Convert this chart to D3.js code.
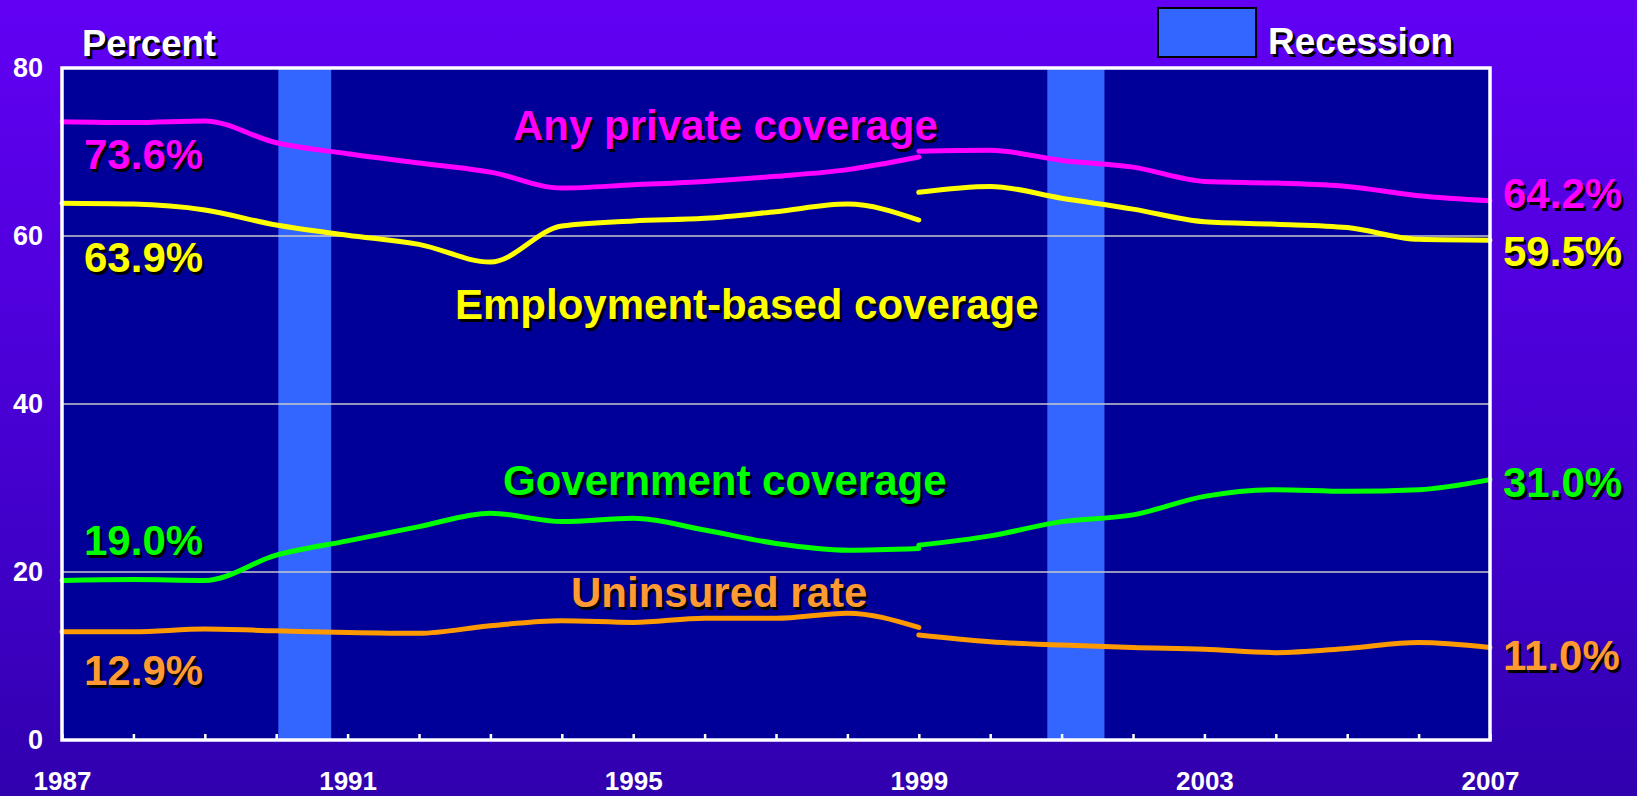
<!DOCTYPE html>
<html>
<head>
<meta charset="utf-8">
<script src="https://cdn.jsdelivr.net/npm/d3@7"></script>
<style>
  html, body { margin: 0; padding: 0; background: #4a00d8; }
  svg { display: block; }
  text { font-family: "Liberation Sans", Arial, sans-serif; font-weight: bold; }
</style>
</head>
<body>
<svg id="chart" width="1637" height="796"></svg>
<script>
// ---- data ----
const yearsOld = [1987,1988,1989,1990,1991,1992,1993,1994,1995,1996,1997,1998,1999];
const yearsNew = [1999,2000,2001,2002,2003,2004,2005,2006,2007];

const privateOld    = [73.6,73.5,73.7,71.1,69.8,68.7,67.6,65.7,66.1,66.5,67.1,67.9,69.4];
const privateNew    = [70.1,70.2,69.0,68.2,66.5,66.3,65.9,64.8,64.2];
const employmentOld = [63.9,63.8,63.1,61.3,60.1,59.0,56.9,61.2,61.8,62.1,62.9,63.8,61.9];
const employmentNew = [65.2,65.9,64.5,63.2,61.7,61.4,61.0,59.6,59.5];
const governmentOld = [19.0,19.1,19.0,22.0,23.7,25.4,27.0,26.0,26.4,25.0,23.4,22.6,22.8];
const governmentNew = [23.2,24.3,26.0,26.8,29.0,29.8,29.6,29.8,31.0];
const uninsuredOld  = [12.9,12.9,13.2,13.0,12.8,12.7,13.6,14.2,14.0,14.5,14.5,15.1,13.4];
const uninsuredNew  = [12.5,11.7,11.3,11.0,10.8,10.4,10.9,11.6,11.0];

const recessions = [[1990.03, 1990.77], [2000.8, 2001.6]];
const yTicks = [0, 20, 40, 60, 80];
const gridValues = [20, 40, 60];
const tickYears = d3.range(1987, 2008);
const labelYears = [1987, 1991, 1995, 1999, 2003, 2007];

const startLabels = ["73.6%", "63.9%", "19.0%", "12.9%"];
const endLabels   = ["64.2%", "59.5%", "31.0%", "11.0%"];
const seriesNames = ["Any private coverage", "Employment-based coverage", "Government coverage", "Uninsured rate"];

// ---- layout ----
const W = 1637, H = 796;
const L = 62, R = 1490, T = 68, B = 740;
const svg = d3.select("#chart");

const x = d3.scaleLinear().domain([1987, 2007]).range([L, R]);
const y = d3.scaleLinear().domain([0, 80]).range([B, T]);

// background gradient
const defs = svg.append("defs");
const grad = defs.append("linearGradient").attr("id", "bg").attr("x1", 0).attr("y1", 0).attr("x2", 0).attr("y2", 1);
grad.append("stop").attr("offset", "0%").attr("stop-color", "#6200F4");
grad.append("stop").attr("offset", "70%").attr("stop-color", "#3F00C8");
grad.append("stop").attr("offset", "100%").attr("stop-color", "#3100AE");
svg.append("rect").attr("width", W).attr("height", H).attr("fill", "url(#bg)");

// plot area
svg.append("rect").attr("x", L).attr("y", T).attr("width", R - L).attr("height", B - T).attr("fill", "#000099");

// recession bars
svg.selectAll("rect.rec").data(recessions).enter().append("rect")
  .attr("class", "rec")
  .attr("x", d => x(d[0])).attr("width", d => x(d[1]) - x(d[0]))
  .attr("y", T).attr("height", B - T).attr("fill", "#3366FF");

// gridlines
svg.selectAll("line.grid").data(gridValues).enter().append("line")
  .attr("x1", L).attr("x2", R).attr("y1", d => y(d)).attr("y2", d => y(d))
  .attr("stroke", "#C8C8C8").attr("stroke-width", 1.6);

// lines
const line = d3.line().x(d => x(d[0])).y(d => y(d[1])).curve(d3.curveMonotoneX);
const series = [
  { color: "#FF00FF", segs: [privateOld, privateNew] },
  { color: "#FFFF00", segs: [employmentOld, employmentNew] },
  { color: "#00FF00", segs: [governmentOld, governmentNew] },
  { color: "#FF9900", segs: [uninsuredOld, uninsuredNew] }
];
series.forEach(s => {
  [[yearsOld, s.segs[0]], [yearsNew, s.segs[1]]].forEach(([yrs, vals]) => {
    svg.append("path")
      .datum(yrs.map((yr, i) => [yr, vals[i]]))
      .attr("d", line)
      .attr("fill", "none")
      .attr("stroke", s.color)
      .attr("stroke-width", 5)
      .attr("stroke-linecap", "round")
      .attr("stroke-linejoin", "round");
  });
});

// border
svg.append("rect").attr("x", L).attr("y", T).attr("width", R - L).attr("height", B - T)
  .attr("fill", "none").attr("stroke", "#FFFFFF").attr("stroke-width", 3.5);

// x axis
const xAxis = d3.axisBottom(x).tickValues(tickYears).tickSize(-6).tickPadding(32)
  .tickFormat(d => labelYears.includes(d) ? String(d) : "");
const gx = svg.append("g").attr("transform", `translate(0,${B})`).call(xAxis);
gx.select(".domain").remove();
gx.selectAll(".tick line").attr("stroke", "#FFFFFF").attr("stroke-width", 2.5);
gx.selectAll(".tick text").attr("fill", "#FFFFFF").attr("font-size", 26)
  .attr("font-family", "Liberation Sans, Arial, sans-serif").attr("font-weight", "bold");

// y axis
const yAxis = d3.axisLeft(y).tickValues(yTicks).tickSize(0).tickPadding(19);
const gy = svg.append("g").attr("transform", `translate(${L},0)`).call(yAxis);
gy.select(".domain").remove();
gy.selectAll(".tick text").attr("fill", "#FFFFFF").attr("font-size", 27)
  .attr("font-family", "Liberation Sans, Arial, sans-serif").attr("font-weight", "bold");

// shadowed text helper
function stext(str, tx, ty, size, color, anchor) {
  svg.append("text").attr("x", tx + 2.5).attr("y", ty + 2.5).attr("font-size", size)
    .attr("text-anchor", anchor || "start").attr("fill", "#000000").text(str);
  svg.append("text").attr("x", tx).attr("y", ty).attr("font-size", size)
    .attr("text-anchor", anchor || "start").attr("fill", color).text(str);
}

// titles / legend
stext("Percent", 82, 56, 36.5, "#FFFFFF");
svg.append("rect").attr("x", 1158).attr("y", 8).attr("width", 98).attr("height", 49)
  .attr("fill", "#3366FF").attr("stroke", "#000000").attr("stroke-width", 2);
stext("Recession", 1268, 54, 37, "#FFFFFF");

// series labels
const textColors = ["#FF00FF", "#FFFF00", "#00FF00", "#FF9933"];
stext(seriesNames[0], 513, 140, 42, textColors[0]);
stext(seriesNames[1], 455, 319, 42, textColors[1]);
stext(seriesNames[2], 503, 495, 42, textColors[2]);
stext(seriesNames[3], 571, 607, 42, textColors[3]);

const startY = [169, 272, 555, 685];
const endY = [208, 266, 497, 670];
startLabels.forEach((s, i) => stext(s, 84, startY[i], 42, textColors[i]));
endLabels.forEach((s, i) => stext(s, 1503, endY[i], 42, textColors[i]));
</script>
</body>
</html>
